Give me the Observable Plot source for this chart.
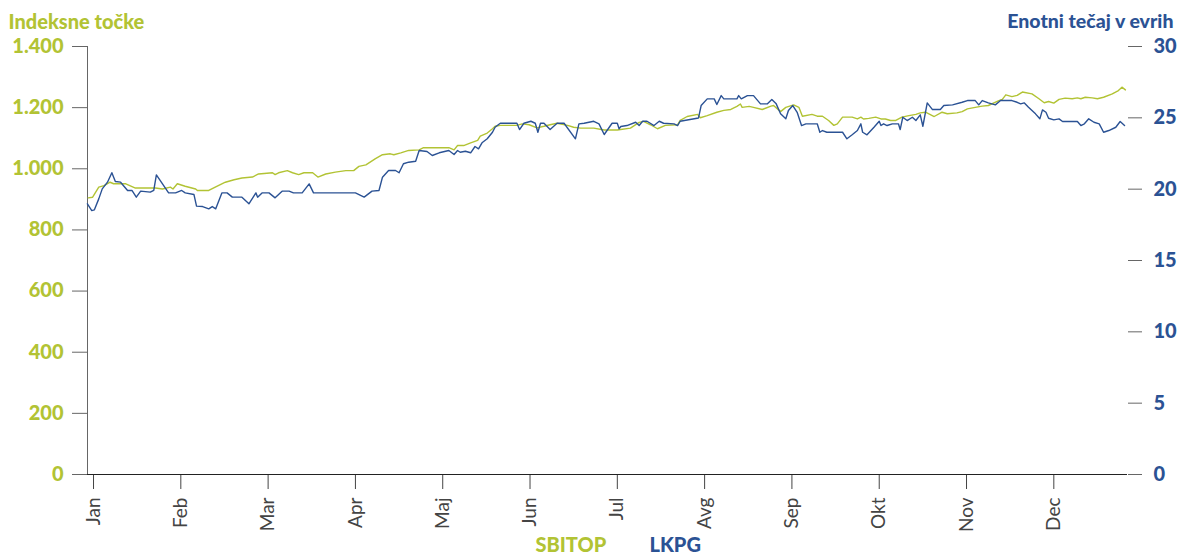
<!DOCTYPE html>
<html>
<head>
<meta charset="utf-8">
<script src="https://cdn.jsdelivr.net/npm/d3@7"></script>
<script src="https://cdn.jsdelivr.net/npm/@observablehq/plot@0.6"></script>
<style>
  html, body { margin: 0; padding: 0; background: #fff; }
  #chart { width: 1183px; height: 556px; }
  #chart g[aria-label="y-axis tick label"] text { font-weight: 900; }
</style>
</head>
<body>
<div id="chart"></div>
<script>
// Month labels (x axis, month index 0..11)
const months = ["Jan","Feb","Mar","Apr","Maj","Jun","Jul","Avg","Sep","Okt","Nov","Dec"];
const leftTicks = [0, 200, 400, 600, 800, 1000, 1200, 1400];
const rightTicks = [0, 5, 10, 15, 20, 25, 30];

// SBITOP (index points); time in months from start of year
const sbitopT = [-0.06,-0.01,0.06,0.12,0.19,0.23,0.37,0.48,0.71,0.79,
0.88,0.91,0.96,1.05,1.17,1.19,1.32,1.40,1.51,1.61,
1.70,1.82,1.89,2.05,2.08,2.12,2.22,2.28,2.35,2.41,
2.51,2.57,2.66,2.77,2.89,2.98,3.04,3.12,3.23,3.31,
3.40,3.44,3.52,3.61,3.73,3.78,3.88,4.07,4.13,4.17,
4.24,4.32,4.40,4.43,4.51,4.57,4.60,4.66,4.85,4.91,
4.99,5.08,5.16,5.23,5.31,5.43,5.50,5.58,5.73,5.85,
6.00,6.15,6.25,6.30,6.38,6.46,6.55,6.69,6.72,6.80,
6.92,6.95,7.03,7.14,7.22,7.30,7.37,7.41,7.43,7.51,
7.56,7.66,7.76,7.79,7.87,7.93,8.02,8.08,8.12,8.23,
8.29,8.35,8.42,8.48,8.52,8.58,8.69,8.75,8.79,8.82,
8.88,8.96,9.02,9.07,9.13,9.19,9.26,9.34,9.42,9.47,
9.53,9.63,9.72,9.78,9.89,9.95,10.01,10.10,10.18,10.25,
10.37,10.41,10.45,10.52,10.58,10.64,10.75,10.83,10.89,10.94,
11.00,11.06,11.13,11.21,11.27,11.31,11.36,11.44,11.50,11.57,
11.67,11.74,11.78,11.82];
const sbitopV = [905,907,940,945,956,951,951,937,937,934,
940,934,951,943,934,929,929,941,956,964,
970,973,983,987,981,987,994,987,981,987,
987,973,983,989,994,994,1008,1013,1033,1046,
1049,1046,1052,1060,1062,1069,1069,1069,1062,1076,
1076,1085,1093,1107,1117,1131,1139,1142,1142,1147,
1144,1134,1139,1144,1149,1142,1136,1133,1133,1127,
1127,1133,1152,1155,1144,1131,1142,1144,1158,1171,
1178,1167,1174,1185,1191,1194,1204,1212,1201,1204,
1201,1194,1205,1207,1187,1201,1209,1201,1172,1178,
1172,1172,1158,1142,1147,1169,1169,1163,1169,1163,
1165,1169,1163,1163,1158,1158,1169,1174,1178,1183,
1185,1171,1185,1180,1183,1187,1196,1201,1205,1207,
1223,1227,1242,1236,1240,1251,1245,1229,1216,1220,
1215,1227,1231,1229,1232,1229,1234,1232,1229,1234,
1245,1256,1267,1258];

// LKPG (unit price in EUR)
const lkpgT = [-0.07,-0.02,0.01,0.06,0.10,0.16,0.21,0.25,0.31,0.39,
0.44,0.49,0.54,0.65,0.69,0.72,0.79,0.86,0.94,1.01,
1.05,1.15,1.18,1.25,1.32,1.36,1.40,1.47,1.53,1.59,
1.70,1.78,1.86,1.88,1.93,2.01,2.08,2.16,2.24,2.29,
2.39,2.47,2.52,2.66,3.00,3.10,3.19,3.27,3.31,3.38,
3.46,3.50,3.55,3.61,3.69,3.73,3.82,3.88,3.96,4.07,
4.13,4.17,4.20,4.26,4.32,4.37,4.41,4.45,4.51,4.57,
4.60,4.64,4.66,4.85,4.88,4.93,5.01,5.06,5.09,5.12,
5.16,5.23,5.31,5.39,5.52,5.56,5.62,5.73,5.79,5.85,
5.94,6.00,6.02,6.04,6.11,6.21,6.25,6.29,6.34,6.42,
6.48,6.53,6.65,6.69,6.72,6.93,6.96,7.03,7.11,7.14,
7.19,7.22,7.37,7.39,7.42,7.49,7.56,7.64,7.72,7.77,
7.82,7.87,7.93,7.96,8.01,8.06,8.11,8.16,8.29,8.32,
8.35,8.40,8.58,8.63,8.69,8.75,8.79,8.81,8.86,8.94,
9.00,9.02,9.05,9.09,9.15,9.22,9.24,9.27,9.32,9.38,
9.42,9.47,9.50,9.55,9.61,9.70,9.74,9.84,9.95,10.01,
10.10,10.14,10.18,10.25,10.33,10.39,10.52,10.58,10.62,10.66,
10.71,10.79,10.84,10.87,10.91,10.94,11.00,11.06,11.10,11.27,
11.31,11.35,11.40,11.46,11.52,11.57,11.63,11.71,11.76,11.81];
const lkpgV = [18.97,18.50,18.55,19.32,20.02,20.49,21.15,20.54,20.49,19.91,
19.91,19.44,19.86,19.79,19.91,21.00,20.37,19.74,19.74,19.91,
19.74,19.63,18.81,18.78,18.62,18.78,18.62,19.74,19.74,19.44,
19.44,18.97,19.74,19.44,19.74,19.74,19.39,19.86,19.86,19.74,
19.74,20.37,19.74,19.74,19.74,19.44,19.86,19.91,20.84,21.31,
21.31,21.15,21.78,21.89,21.96,22.71,22.64,22.36,22.55,22.71,
22.43,22.71,22.59,22.66,22.55,22.99,22.83,23.25,23.53,23.99,
24.34,24.53,24.62,24.62,24.18,24.62,24.76,24.62,23.99,24.62,
24.62,24.18,24.62,24.62,23.53,24.58,24.62,24.76,24.58,23.83,
24.62,24.62,24.23,24.39,24.46,24.69,24.46,24.76,24.76,24.46,
24.76,24.62,24.58,24.46,24.76,24.99,25.86,26.33,26.33,25.93,
26.56,26.33,26.33,26.56,26.33,26.56,26.56,25.98,25.98,26.28,
25.98,25.28,24.93,25.51,25.86,25.39,24.46,24.58,24.58,23.99,
24.11,23.99,23.99,23.53,23.81,24.11,24.58,23.99,23.81,24.34,
24.76,24.46,24.58,24.46,24.58,24.58,24.18,25.04,24.81,25.04,
24.81,25.21,24.41,26.05,25.58,25.58,25.86,25.91,26.09,26.21,
26.21,25.91,26.21,26.05,25.91,26.21,26.21,26.09,25.98,26.05,
25.74,25.28,24.93,25.56,25.39,24.97,24.86,24.93,24.74,24.74,
24.46,24.58,24.93,24.69,24.58,23.99,24.11,24.34,24.74,24.46];

const GREEN = "#b2c334";
const BLUE = "#2b5294";
const K = 1400 / 30; // right axis (EUR) onto left axis (points)

const sbitop = sbitopT.map((t, i) => ({t, v: sbitopV[i]}));
const lkpg = lkpgT.map((t, i) => ({t, v: lkpgV[i]}));

const fmt = d3.formatLocale({decimal: ",", thousands: ".", grouping: [3], currency: ["", ""]}).format(",");

const chart = Plot.plot({
  width: 1183,
  height: 556,
  marginTop: 46,
  marginBottom: 82,
  marginLeft: 87,
  marginRight: 56,
  style: {fontFamily: "Lato, 'Open Sans', sans-serif", background: "#fff", overflow: "visible"},
  x: {domain: [-0.069, 11.844], label: null},
  y: {domain: [0, 1400], label: null},
  marks: [
    // left axis ticks and labels
    Plot.axisY(leftTicks, {anchor: "left", label: null, tickSize: 15, tickFormat: () => "", stroke: "#666"}),
    Plot.axisY(leftTicks, {anchor: "left", label: null, tickSize: 0, tickPadding: 24, tickFormat: fmt,
      color: GREEN, fontSize: 20, fontWeight: 900}),
    // right axis
    Plot.axisY(rightTicks.map(v => v * K), {anchor: "right", label: null, tickSize: 14, tickFormat: () => "", stroke: "#666"}),
    Plot.axisY(rightTicks.map(v => v * K), {anchor: "right", label: null, tickSize: 0, tickPadding: 26,
      tickFormat: d => String(Math.round(d / K)), color: BLUE, fontSize: 20, fontWeight: 900}),
    // x axis
    Plot.axisX(d3.range(12), {anchor: "bottom", label: null, tickSize: 15, tickPadding: 8, tickRotate: -90,
      tickFormat: i => months[i], color: "#444", fontSize: 19, fontWeight: "normal"}),
    Plot.ruleX([-0.069], {stroke: "#666"}),
    Plot.ruleY([0], {stroke: "#222"}),
    Plot.line(sbitop, {x: "t", y: "v", stroke: GREEN, strokeWidth: 1.4}),
    Plot.line(lkpg, {x: "t", y: d => d.v * K, stroke: BLUE, strokeWidth: 1.4}),
    // titles
    Plot.text(["Indeksne točke"], {frameAnchor: "top-left", dx: -79, dy: -32, textAnchor: "start",
      lineAnchor: "top", fill: GREEN, fontSize: 20, fontWeight: 900}),
    Plot.text(["Enotni tečaj v evrih"], {frameAnchor: "top-right", dx: 46, dy: -32, textAnchor: "end",
      lineAnchor: "top", fill: BLUE, fontSize: 19.5, fontWeight: 900}),
    // legend
    Plot.text(["SBITOP"], {frameAnchor: "bottom-left", dx: 448, dy: 63, textAnchor: "start",
      lineAnchor: "top", fill: GREEN, fontSize: 20, fontWeight: 900}),
    Plot.text(["LKPG"], {frameAnchor: "bottom-left", dx: 562, dy: 63, textAnchor: "start",
      lineAnchor: "top", fill: BLUE, fontSize: 20, fontWeight: 900})
  ]
});
document.getElementById("chart").appendChild(chart);
</script>
</body>
</html>
